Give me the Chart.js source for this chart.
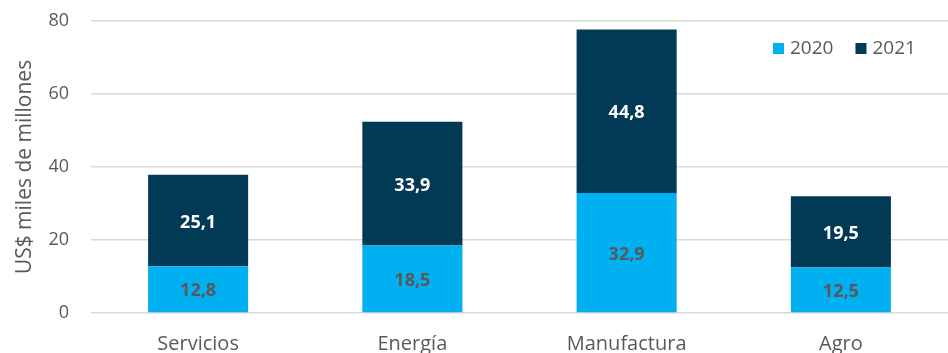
<!DOCTYPE html>
<html>
<head>
<meta charset="utf-8">
<script src="https://cdn.jsdelivr.net/npm/chart.js@4/dist/chart.umd.min.js"></script>
<style>
  html, body { margin: 0; padding: 0; background: #fff; }
  #wrap { width: 948px; height: 353px; position: relative; }
</style>
</head>
<body>
<div id="wrap"><canvas id="c"></canvas></div>
<script>
// Sectores y montos (US$ miles de millones)
const categories = ['Servicios', 'Energía', 'Manufactura', 'Agro'];
const values2020 = [12.8, 18.5, 32.9, 12.5];
const values2021 = [25.1, 33.9, 44.8, 19.5];
const seriesLabels = ['2020', '2021'];
const yTicks = [0, 20, 40, 60, 80];

const COLOR_2020 = '#00B0F0';
const COLOR_2021 = '#023A55';
const TEXT_GREY = '#595959';
const FONT = '"Open Sans", "Noto Sans", sans-serif';

const fmt = v => v.toFixed(1).replace('.', ',');

// Etiquetas de valor centradas en cada segmento y leyenda arriba a la derecha
const overlay = {
  id: 'overlay',
  afterDatasetsDraw(chart) {
    const ctx = chart.ctx;
    ctx.save();
    ctx.textAlign = 'center';
    ctx.textBaseline = 'middle';
    ctx.font = 'bold 18px ' + FONT;
    chart.data.datasets.forEach((ds, di) => {
      const meta = chart.getDatasetMeta(di);
      meta.data.forEach((bar, i) => {
        const { x, y, base } = bar.getProps(['x', 'y', 'base'], true);
        ctx.fillStyle = di === 0 ? TEXT_GREY : '#FFFFFF';
        ctx.fillText(fmt(ds.data[i]), x, (y + base) / 2 + 2);
      });
    });
    // leyenda
    ctx.font = '19px ' + FONT;
    ctx.textAlign = 'left';
    let lx = 773;
    const ly = 48;
    chart.data.datasets.forEach((ds) => {
      ctx.fillStyle = ds.backgroundColor;
      ctx.fillRect(lx, ly - 5, 11, 11);
      ctx.fillStyle = TEXT_GREY;
      ctx.fillText(ds.label, lx + 17, ly + 1);
      lx += 17 + ctx.measureText(ds.label).width + 22;
    });
    ctx.restore();
  }
};

new Chart(document.getElementById('c'), {
  type: 'bar',
  data: {
    labels: categories,
    datasets: [
      { label: seriesLabels[0], data: values2020, backgroundColor: COLOR_2020 },
      { label: seriesLabels[1], data: values2021, backgroundColor: COLOR_2021 }
    ]
  },
  options: {
    responsive: true,
    maintainAspectRatio: false,
    animation: false,
    layout: { padding: { top: 21, right: 0, left: 0, bottom: 0 } },
    datasets: { bar: { categoryPercentage: 1, barPercentage: 0.467 } },
    plugins: { legend: { display: false }, tooltip: { enabled: false } },
    scales: {
      x: {
        stacked: true,
        grid: { display: false },
        border: { display: false },
        ticks: { color: TEXT_GREY, font: { family: FONT, size: 20 }, padding: 11 },
        afterFit(s) { s.height = 40; }
      },
      y: {
        stacked: true,
        min: 0, max: 80,
        afterBuildTicks(s) { s.ticks = yTicks.map(v => ({ value: v })); },
        grid: { color: '#D9D9D9', lineWidth: 1.5, drawTicks: false },
        border: { display: false },
        ticks: { color: TEXT_GREY, font: { family: FONT, size: 18 }, padding: 22 },
        title: {
          display: true,
          text: 'US$ miles de millones',
          color: TEXT_GREY,
          font: { family: FONT, size: 21 },
          padding: { top: 12, bottom: 0 }
        },
        afterFit(s) {
          s.width = 91;
          s.paddingTop = 0;
          s.paddingBottom = 0;
        }
      }
    }
  },
  plugins: [overlay]
});
</script>
</body>
</html>
